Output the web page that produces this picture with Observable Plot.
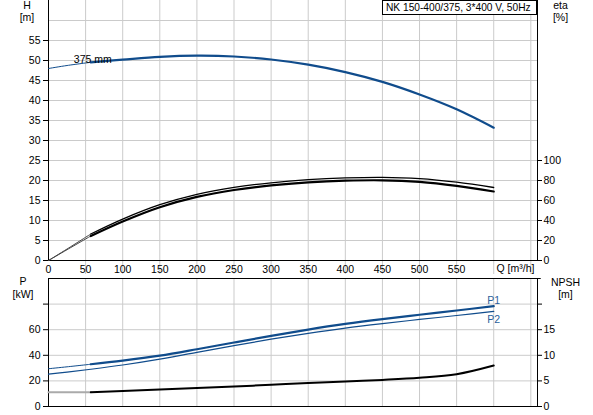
<!DOCTYPE html>
<html><head><meta charset="utf-8">
<script src="https://cdn.jsdelivr.net/npm/d3@7"></script>
<script src="https://cdn.jsdelivr.net/npm/@observablehq/plot@0.6"></script>
<style>
body{margin:0;background:#fff;font-family:"Liberation Sans",Arial,sans-serif;}
#wrap{position:relative;width:593px;height:415px;overflow:hidden;}
#wrap svg{display:block;}
#title{position:absolute;left:382px;top:0;width:150px;height:13px;border:1px solid #000;background:#fff;
  font-size:10.2px;line-height:13px;padding:0 0 0 3px;white-space:nowrap;color:#000;overflow:hidden;}
</style></head><body>
<div id="wrap"><div id="title">NK 150-400/375, 3*400 V, 50Hz</div></div>
<script>
// ---- data ----
const Q        = [0, 25, 57, 100, 150, 200, 250, 300, 350, 400, 450, 500, 550, 600];
const H        = [48.0, 48.75, 49.55, 50.2, 50.9, 51.2, 51.0, 50.25, 48.95, 47.1, 44.65, 41.5, 37.8, 33.2];
const etaUpper = [0, 11.5, 26.5, 41.4, 55.8, 66.2, 73.1, 77.7, 80.8, 82.6, 83.2, 81.9, 78.3, 73.0];
const etaLower = [0, 10.8, 24.5, 39.0, 53.3, 63.6, 70.5, 75.1, 78.1, 79.8, 80.2, 78.6, 74.6, 69.0];
const P1       = [29.5, 31.0, 33.0, 35.8, 39.7, 44.7, 50.0, 55.2, 60.1, 64.5, 68.3, 71.7, 75.0, 78.4];
const P2       = [25.3, 26.9, 29.1, 32.4, 37.0, 42.3, 47.6, 52.6, 57.2, 61.3, 64.8, 68.0, 71.1, 74.3];
const NPSH     = [2.8, 2.8, 2.8, 3.05, 3.3, 3.6, 3.9, 4.25, 4.6, 4.9, 5.2, 5.6, 6.3, 8.0];
const thickFrom = 57;
const qTickLabels = [0, 50, 100, 150, 200, 250, 300, 350, 400, 450, 500, 550];
const qGrid   = [50, 100, 150, 200, 250, 300, 350, 400, 450, 500, 550, 600, 650];
const hTicks  = [0, 5, 10, 15, 20, 25, 30, 35, 40, 45, 50, 55];
const hGrid   = [5, 10, 15, 20, 25, 30, 35, 40, 45, 50, 55, 60];
const etaTicks = [0, 20, 40, 60, 80, 100];
const pTicks  = [0, 20, 40, 60, 80];
const pGrid   = [20, 40, 60, 80];
const npshTicks = [0, 5, 10, 15, 20];

// ---- tables for the library ----
const rows = Q.map((q, i) => ({q, h: H[i], eu: etaUpper[i], el: etaLower[i], p1: P1[i], p2: P2[i], n: NPSH[i]}));
const thin = rows.filter(d => d.q <= thickFrom);
const thick = rows.filter(d => d.q >= thickFrom);
const last = rows[rows.length - 1];
const anchorPt = rows.find(d => d.q === thickFrom);

const QMAX = 659, QEXT = 664;
const BLUE = "#104c8c", GRID = "#cbcbcb";
const style = {fontFamily: "'Liberation Sans', Arial, sans-serif", fontSize: "10.5px", color: "#000", background: "transparent", overflow: "visible"};
const curve = "catmull-rom";
const title = (t, anchor, dx, dy) => Plot.text([t], {frameAnchor: anchor, textAnchor: "middle", lineAnchor: "middle", dx, dy});

const topChart = Plot.plot({
  width: 593, height: 277,
  marginLeft: 48, marginRight: 56, marginTop: 0, marginBottom: 17,
  style,
  x: {domain: [0, QMAX], label: null},
  y: {domain: [0, 65], label: null},
  marks: [
    Plot.ruleY(hGrid, {stroke: GRID}),
    Plot.ruleX(qGrid, {y1: -3.5, y2: 65, stroke: GRID}),
    Plot.ruleY([0], {x1: 0, x2: QEXT, stroke: "#000"}),
    Plot.ruleX([0, QMAX], {y1: 0, y2: 65, stroke: "#000"}),
    Plot.axisX(qTickLabels, {tickSize: 0, tickPadding: 5, label: null}),
    Plot.axisY(hTicks, {anchor: "left", tickSize: 5, tickPadding: 3, label: null}),
    Plot.axisY(etaTicks.map(e => e / 4), {anchor: "right", tickSize: 4, tickPadding: 2, tickFormat: d => d * 4, label: null}),
    // eta curves
    Plot.line(thin, {x: "q", y: d => d.eu / 4, stroke: "#444", strokeWidth: 1, curve}),
    Plot.line(thin, {x: "q", y: d => d.el / 4, stroke: "#444", strokeWidth: 1, curve}),
    Plot.line(thick, {x: "q", y: d => d.eu / 4, stroke: "#000", strokeWidth: 1.3, curve}),
    Plot.line(thick, {x: "q", y: d => d.el / 4, stroke: "#000", strokeWidth: 2.2, curve}),
    // H curve
    Plot.line(thin, {x: "q", y: "h", stroke: BLUE, strokeWidth: 1, curve}),
    Plot.line(thick, {x: "q", y: "h", stroke: BLUE, strokeWidth: 2.2, curve}),
    Plot.text([anchorPt], {x: "q", y: "h", text: () => "375 mm", dx: 2, dy: -3, fill: "#000"}),
    Plot.text(["Q [m³/h]"], {frameAnchor: "bottom-right", textAnchor: "start", lineAnchor: "middle", dx: -41, dy: 8.5}),
    title("H", "top-left", -21.5, 5),
    title("[m]", "top-left", -21.5, 17),
    title("eta", "top-right", 23, 5),
    title("[%]", "top-right", 23, 17)
  ]
});

const bottomChart = Plot.plot({
  width: 593, height: 138,
  marginLeft: 48, marginRight: 56, marginTop: 1, marginBottom: 9,
  style,
  x: {domain: [0, QMAX], label: null, axis: null},
  y: {domain: [0, 100], label: null},
  marks: [
    Plot.ruleY(pGrid, {stroke: GRID}),
    Plot.ruleX(qGrid, {y1: 0, y2: 100, stroke: GRID}),
    Plot.ruleY([100], {x1: 0, x2: QEXT, stroke: "#000"}),
    Plot.ruleY([0], {x1: 0, x2: QEXT, stroke: "#000", strokeWidth: 1.2}),
    Plot.ruleX([0, QMAX], {y1: 0, y2: 100, stroke: "#000"}),
    Plot.axisY(pTicks, {anchor: "left", tickSize: 5, tickPadding: 3, tickFormat: d => d === 80 ? "" : d, label: null}),
    Plot.axisY(npshTicks.map(n => n * 4), {anchor: "right", tickSize: 4, tickPadding: 2, tickFormat: d => d === 80 ? "" : d / 4, label: null}),
    // NPSH
    Plot.line(thin, {x: "q", y: d => d.n * 4, stroke: "#aaa", strokeWidth: 2, curve}),
    Plot.line(thick, {x: "q", y: d => d.n * 4, stroke: "#000", strokeWidth: 2, curve}),
    // P2, P1
    Plot.line(rows, {x: "q", y: "p2", stroke: BLUE, strokeWidth: 1.2, curve}),
    Plot.line(thin, {x: "q", y: "p1", stroke: BLUE, strokeWidth: 1, curve}),
    Plot.line(thick, {x: "q", y: "p1", stroke: BLUE, strokeWidth: 2.2, curve}),
    Plot.text([last], {x: "q", y: "p1", text: () => "P1", dy: -6, fill: "#2a5f9c"}),
    Plot.text([last], {x: "q", y: "p2", text: () => "P2", dy: 8.5, fill: "#2a5f9c"}),
    title("P", "top-left", -25.5, 3),
    title("[kW]", "top-left", -25.5, 16),
    title("NPSH", "top-right", 28, 4),
    title("[m]", "top-right", 28, 16.5)
  ]
});

const wrap = document.getElementById("wrap");
wrap.insertBefore(bottomChart, wrap.firstChild);
wrap.insertBefore(topChart, wrap.firstChild);
</script>
</body></html>
